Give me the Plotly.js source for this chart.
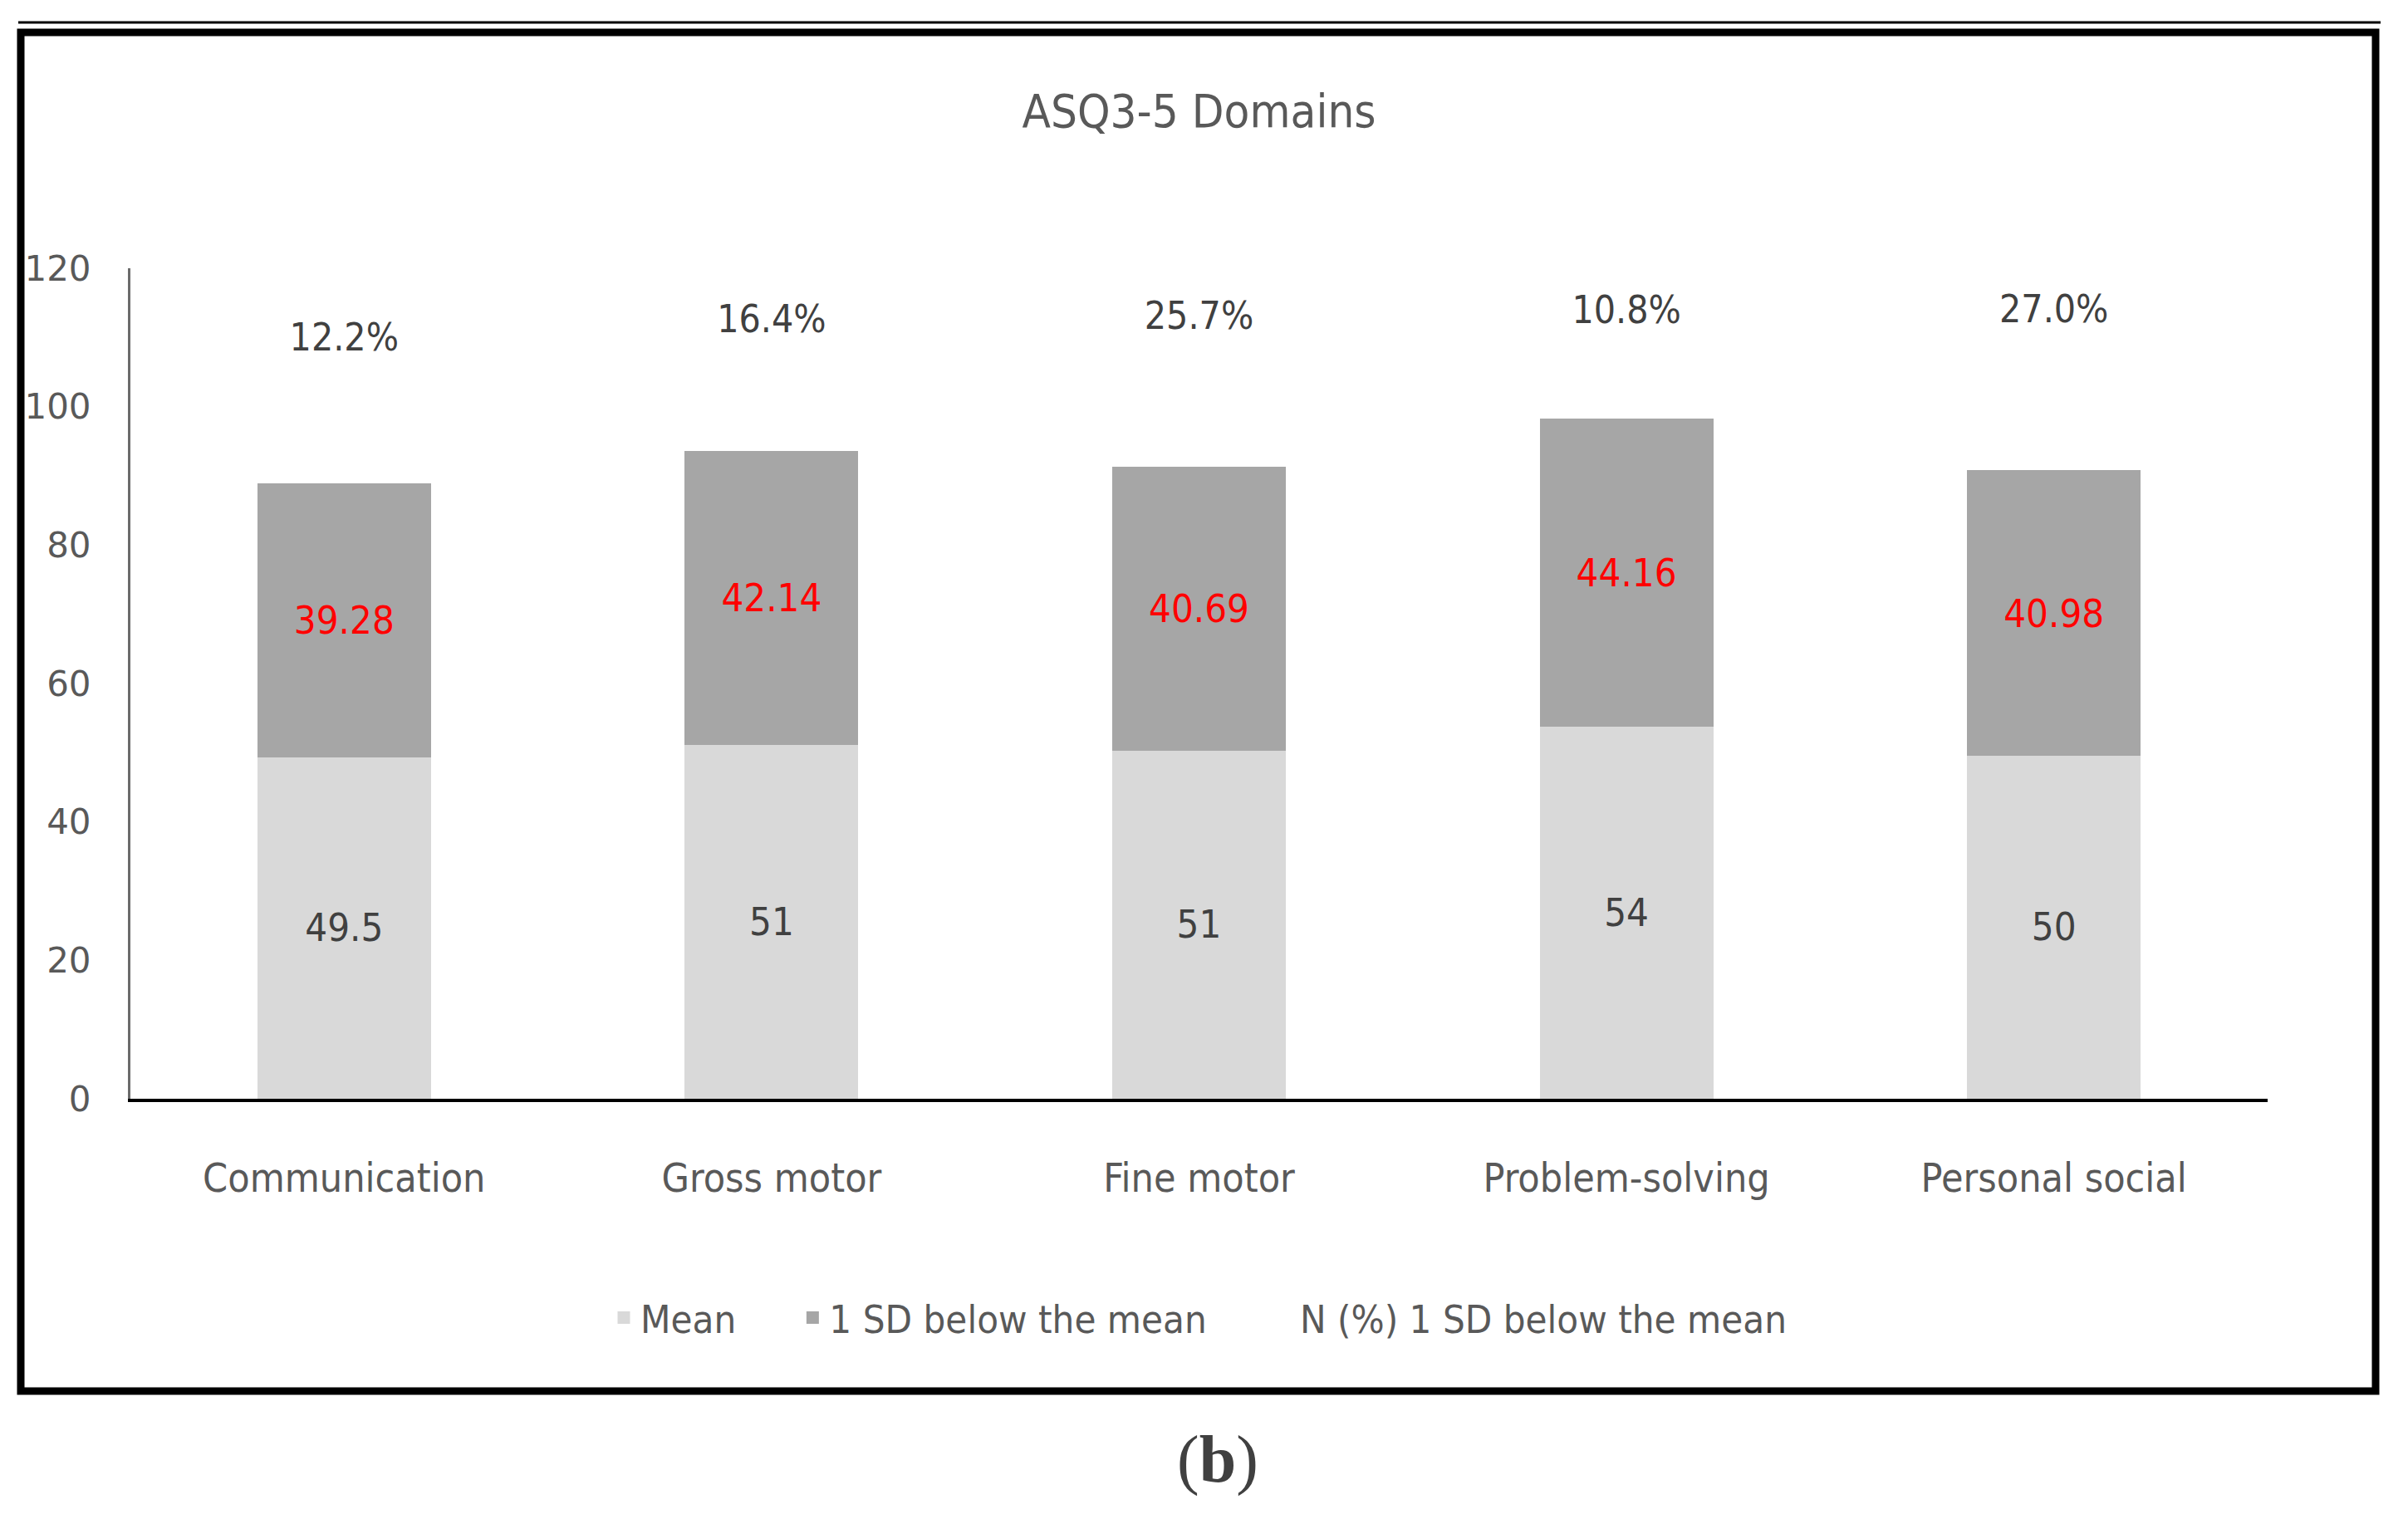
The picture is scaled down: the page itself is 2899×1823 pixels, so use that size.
<!DOCTYPE html>
<html>
<head>
<meta charset="utf-8">
<script src="https://cdn.plot.ly/plotly-3.0.1.min.js"></script>
<style>html,body{margin:0;padding:0;background:#fff;}#chart{width:2899px;height:1823px;}</style>
</head>
<body>
<div id="chart"></div>
<script>
// ---- data ----
const categories = ["Communication", "Gross motor", "Fine motor", "Problem-solving", "Personal social"];
const meanValues = [49.5, 51.3, 50.5, 54.0, 49.7];
const meanLabels = ["49.5", "51", "51", "54", "50"];
const sdBelowValues = [39.28, 42.14, 40.69, 44.16, 40.98];
const sdBelowLabels = ["39.28", "42.14", "40.69", "44.16", "40.98"];
const pctSegmentValues = [42.6, 38.6, 44.0, 31.8, 46.8];
const pctLabels = ["12.2%", "16.4%", "25.7%", "10.8%", "27.0%"];
const seriesNames = ["Mean", "1 SD below the mean", "N (%) 1 SD below the mean"];

const narrow = "DejaVu Sans Condensed, Liberation Sans Narrow, sans-serif";
const pad = "\u00A0\u00A0\u00A0\u00A0\u00A0";

const common = {
  type: "bar",
  x: categories,
  textposition: "inside",
  insidetextanchor: "middle",
  textangle: 0,
  constraintext: "none",
  hoverinfo: "skip"
};

const traces = [
  Object.assign({}, common, {
    name: seriesNames[0] + pad, y: meanValues, text: meanLabels,
    marker: {color: "#D9D9D9", line: {color: "#D9D9D9", width: 3}},
    textfont: {family: narrow, size: 47, color: "#404040"}
  }),
  Object.assign({}, common, {
    name: seriesNames[1] + pad, y: sdBelowValues, text: sdBelowLabels,
    marker: {color: "#A6A6A6", line: {color: "#A6A6A6", width: 3}},
    textfont: {family: narrow, size: 47, color: "#FF0000"}
  }),
  Object.assign({}, common, {
    name: seriesNames[2], y: pctSegmentValues, text: pctLabels,
    marker: {color: "rgba(0,0,0,0)"},
    textfont: {family: narrow, size: 46, color: "#404040"}
  })
];

const L = 157, R = 2730, T = 323, B = 1323;
const px = v => (v - L) / (R - L);
const py = v => (B - v) / (B - T);

const layout = {
  width: 2899, height: 1823, autosize: false,
  paper_bgcolor: "#ffffff", plot_bgcolor: "#ffffff",
  margin: {l: L, r: 2899 - R, t: T, b: 1823 - B, pad: 0},
  barmode: "stack",
  bargap: 0.6,
  showlegend: true,
  title: {
    text: "ASQ3-5 Domains",
    font: {family: narrow, size: 56, color: "#595959"},
    x: 0.5, xref: "paper", xanchor: "center",
    y: 1 - 133 / 1823, yref: "container", yanchor: "middle"
  },
  xaxis: {
    type: "category",
    range: [-0.5, 4.5],
    showline: true, linecolor: "#000000", linewidth: 4,
    showgrid: false, zeroline: false, ticks: "",
    tickfont: {family: narrow, size: 48, color: "#595959"},
    ticklabelstandoff: 50,
    fixedrange: true
  },
  yaxis: {
    range: [0, 120], dtick: 20, tick0: 0,
    showline: true, linecolor: "#6b6b6b", linewidth: 3,
    showgrid: false, zeroline: false, ticks: "",
    tickfont: {family: "DejaVu Sans, Verdana, sans-serif", size: 42, color: "#595959"},
    ticklabelstandoff: 36,
    fixedrange: true
  },
  legend: {
    orientation: "h",
    x: 0.5, xanchor: "center",
    y: py(1587), yanchor: "middle",
    font: {family: narrow, size: 47, color: "#595959"},
    traceorder: "normal",
    bgcolor: "rgba(0,0,0,0)"
  },
  shapes: [
    {type: "rect", xref: "paper", yref: "paper",
     x0: px(25), x1: px(2860), y0: py(1675), y1: py(39),
     line: {color: "#000000", width: 9}, fillcolor: "rgba(0,0,0,0)"},
    {type: "line", xref: "paper", yref: "paper",
     x0: px(22), x1: px(2866), y0: py(27), y1: py(27),
     line: {color: "#000000", width: 3}}
  ],
  annotations: [
    {text: "(<b>b</b>)", xref: "paper", yref: "paper",
     x: px(1466), y: py(1757), xanchor: "center", yanchor: "middle",
     showarrow: false,
     font: {family: "Liberation Serif, DejaVu Serif, serif", size: 80, color: "#404040"}}
  ]
};

Plotly.newPlot("chart", traces, layout, {displayModeBar: false, staticPlot: true});
</script>
</body>
</html>
